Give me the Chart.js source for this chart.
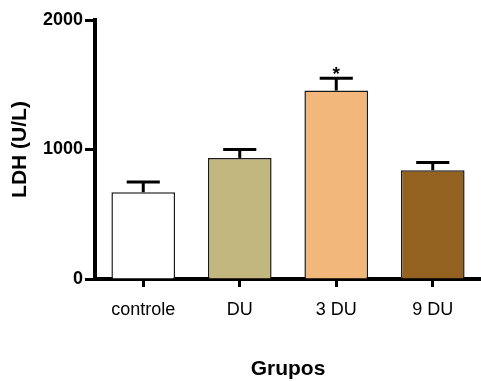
<!DOCTYPE html>
<html>
<head>
<meta charset="utf-8">
<script src="https://cdn.jsdelivr.net/npm/chart.js@4.4.1/dist/chart.umd.min.js"></script>
<style>
  html, body { margin: 0; padding: 0; background: #fff; }
  #wrap { width: 481px; height: 381px; }
</style>
</head>
<body>
<div id="wrap"><canvas id="c" width="481" height="381"></canvas></div>
<script>
// LDH activity per group: mean and standard error
const groups = ['controle', 'DU', '3 DU', '9 DU'];
const ldhMean = [670, 935, 1455, 840];
const ldhSem = [80, 65, 95, 60];
const significance = ['', '', '*', ''];
const barColors = ['#ffffff', '#c2b77f', '#f2b77b', '#936120'];
const yTicks = [0, 1000, 2000];

const FONT = "'Liberation Sans', Arial, sans-serif";

// Error bars (stem + cap) and significance markers above each bar
const errorBarPlugin = {
  id: 'errorBars',
  afterDatasetsDraw(chart) {
    const ctx = chart.ctx;
    const y = chart.scales.y;
    const meta = chart.getDatasetMeta(0);
    ctx.save();
    ctx.strokeStyle = '#000';
    ctx.fillStyle = '#000';
    meta.data.forEach((bar, i) => {
      const x = bar.x;
      const yMean = y.getPixelForValue(ldhMean[i]);
      const yTop = y.getPixelForValue(ldhMean[i] + ldhSem[i]);
      const capHalf = bar.width * 0.26;
      ctx.lineWidth = 3;
      ctx.beginPath();
      ctx.moveTo(x, yMean);
      ctx.lineTo(x, yTop);
      ctx.stroke();
      ctx.beginPath();
      ctx.moveTo(x - capHalf, yTop);
      ctx.lineTo(x + capHalf, yTop);
      ctx.stroke();
      if (significance[i]) {
        ctx.font = 'bold 19px ' + FONT;
        ctx.textAlign = 'center';
        ctx.textBaseline = 'alphabetic';
        ctx.fillText(significance[i], x, yTop + 2);
      }
    });
    ctx.restore();
  }
};

new Chart(document.getElementById('c'), {
  type: 'bar',
  data: {
    labels: groups,
    datasets: [{
      data: ldhMean,
      backgroundColor: barColors,
      borderColor: '#1a1a1a',
      borderWidth: 1.5,
      categoryPercentage: 1.0,
      barPercentage: 0.66
    }]
  },
  options: {
    responsive: false,
    animation: false,
    devicePixelRatio: 1,
    layout: { padding: { top: 20, right: 0, bottom: 0, left: 0 } },
    plugins: {
      legend: { display: false },
      tooltip: { enabled: false }
    },
    scales: {
      x: {
        z: 1,
        offset: true,
        afterFit(scale) { scale.height = 102; },
        border: { display: true, color: '#000', width: 4 },
        grid: {
          offset: false,
          drawOnChartArea: false,
          drawTicks: true,
          tickLength: 8,
          tickWidth: 3,
          tickColor: '#000',
          color: '#000'
        },
        ticks: {
          color: '#000',
          padding: 12,
          font: { family: FONT, size: 18 }
        },
        title: {
          display: true,
          text: 'Grupos',
          color: '#000',
          padding: { top: 0, bottom: -1 },
          font: { family: FONT, size: 21, weight: 'bold' }
        }
      },
      y: {
        z: 1,
        min: 0,
        max: 2000,
        afterFit(scale) { scale.width = 95; },
        afterBuildTicks(scale) { scale.ticks = yTicks.map(v => ({ value: v })); },
        border: { display: true, color: '#000', width: 4 },
        grid: {
          drawOnChartArea: false,
          drawTicks: true,
          tickLength: 10,
          tickWidth: 3,
          tickColor: '#000',
          color: '#000'
        },
        ticks: {
          color: '#000',
          padding: 2,
          callback: (v) => String(v),
          font: { family: FONT, size: 18, weight: 'bold' }
        },
        title: {
          display: true,
          text: 'LDH (U/L)',
          color: '#000',
          padding: { top: 8, bottom: 0 },
          font: { family: FONT, size: 21, weight: 'bold' }
        }
      }
    }
  },
  plugins: [errorBarPlugin]
});
</script>
</body>
</html>
